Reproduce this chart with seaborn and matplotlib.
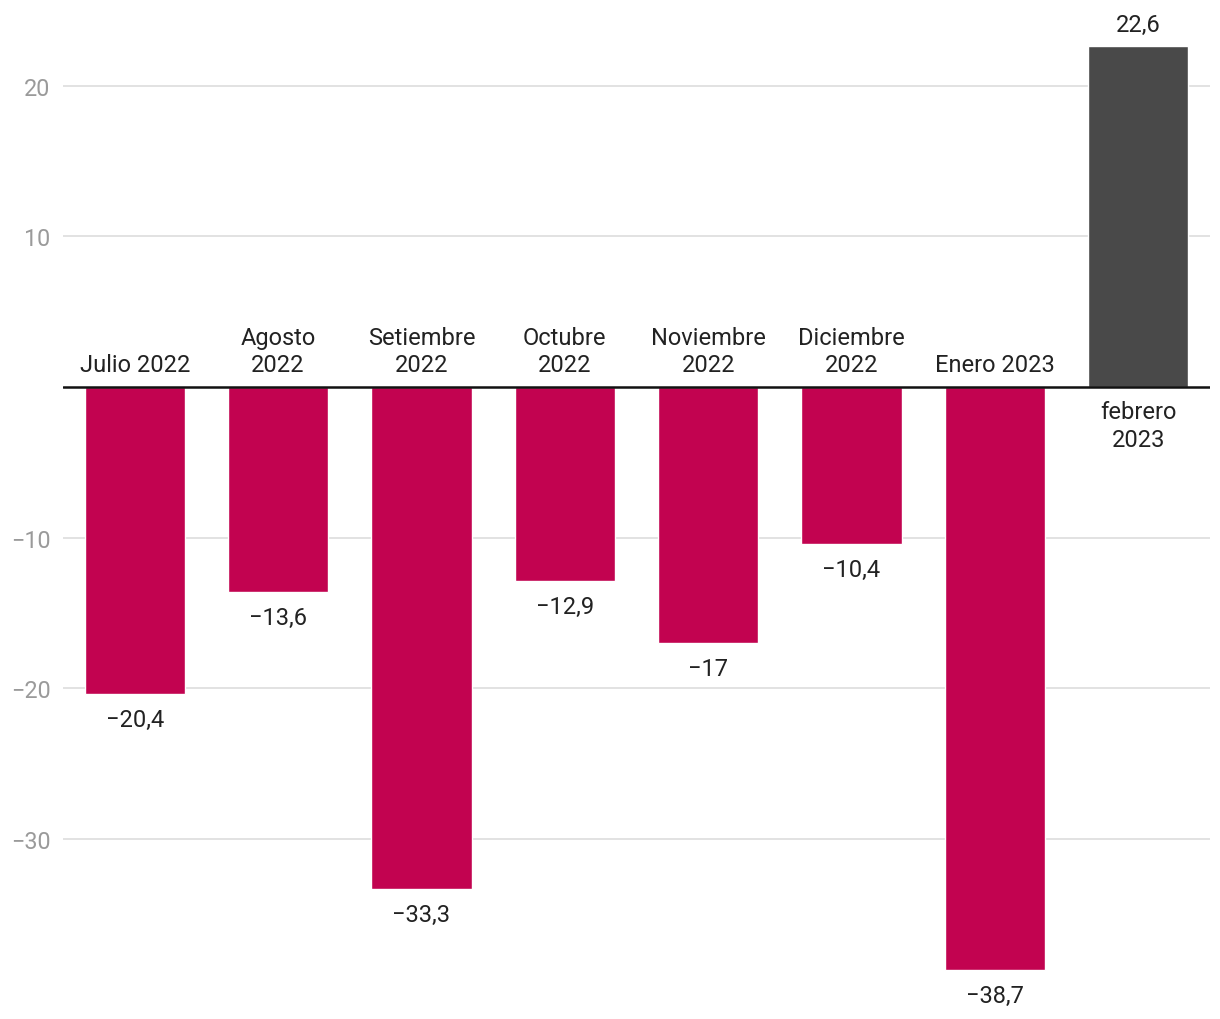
import matplotlib
matplotlib.use("Agg")
import matplotlib.pyplot as plt
import seaborn as sns
import pandas as pd

categories = ["Julio 2022", "Agosto\n2022", "Setiembre\n2022", "Octubre\n2022",
              "Noviembre\n2022", "Diciembre\n2022", "Enero 2023", "febrero\n2023"]
values = [-20.4, -13.6, -33.3, -12.9, -17.0, -10.4, -38.7, 22.6]
value_labels = ["−20,4", "−13,6", "−33,3", "−12,9", "−17", "−10,4", "−38,7", "22,6"]
groups = ["hist"] * 7 + ["last"]
yticks = [-30, -20, -10, 10, 20]
ytick_labels = ["−30", "−20", "−10", "10", "20"]

sns.set_theme(style="white")
plt.rcParams["font.family"] = ["Roboto", "DejaVu Sans"]

df = pd.DataFrame({"cat": categories, "val": values, "grp": groups})

fig = plt.figure(figsize=(12.2, 10.2), dpi=100)
ax = fig.add_axes([63 / 1220, 0, (1210 - 63) / 1220, 1])

sns.barplot(data=df, x="cat", y="val", hue="grp",
            palette={"hist": "#C20350", "last": "#494949"},
            width=0.70, dodge=False, legend=False, ax=ax, saturation=1)

ax.set_ylim(-41.94, 25.75)
ax.set_xlim(-0.5, 7.5)
ax.set_yticks(yticks)
ax.set_yticklabels(ytick_labels)
ax.tick_params(axis="y", length=0, pad=9, labelsize=16.8, labelcolor="#9a9a9a")
ax.set_xticks([])
ax.set_xlabel("")
ax.set_ylabel("")
for s in ax.spines.values():
    s.set_visible(False)
ax.yaxis.grid(True, color="#e2e2e2", linewidth=1.4)
ax.set_axisbelow(True)
ax.axhline(0, color="#111111", linewidth=1.8, zorder=3)

fs = 17
for i, (c, v, lab) in enumerate(zip(categories, values, value_labels)):
    if v < 0:
        ax.annotate(c, (i, 0), xytext=(0, 11), textcoords="offset pixels",
                    ha="center", va="bottom", fontsize=fs, color="#222222",
                    linespacing=1.25)
        ax.annotate(lab, (i, v), xytext=(0, -14), textcoords="offset pixels",
                    ha="center", va="top", fontsize=fs, color="#222222")
    else:
        ax.annotate(c, (i, 0), xytext=(0, -13), textcoords="offset pixels",
                    ha="center", va="top", fontsize=fs, color="#222222",
                    linespacing=1.25)
        ax.annotate(lab, (i, v), xytext=(0, 10), textcoords="offset pixels",
                    ha="center", va="bottom", fontsize=fs, color="#222222")

fig.savefig("out.png", dpi=100)
